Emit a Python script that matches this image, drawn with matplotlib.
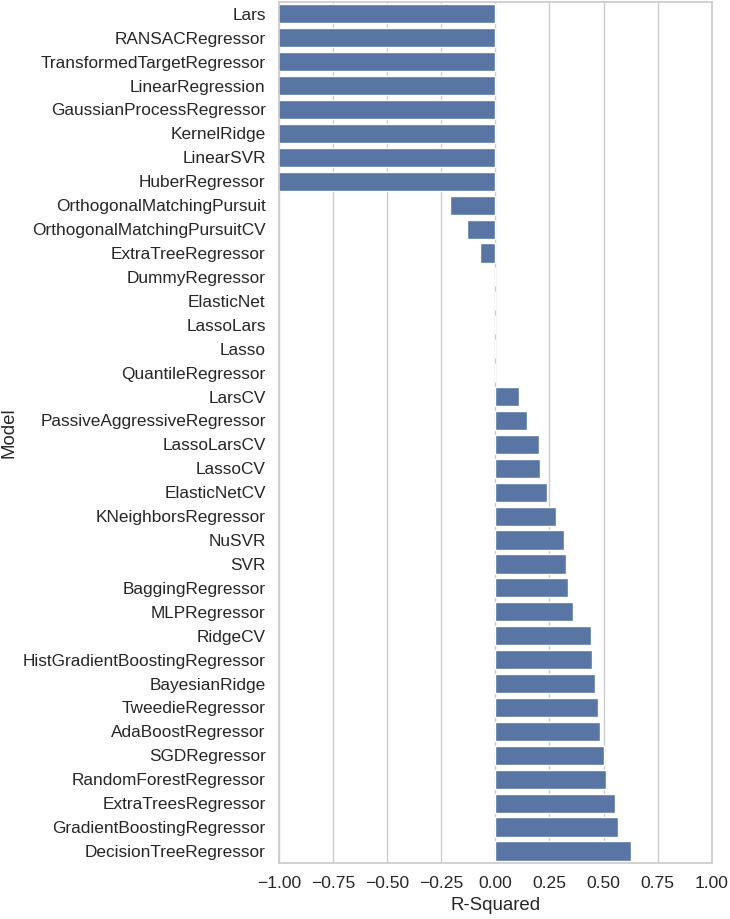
import matplotlib
matplotlib.use("Agg")
import matplotlib.pyplot as plt
import seaborn as sns
import pandas as pd

# ── Données (R² par modèle) ───────────────────────────────
modeles = [
    'Lars', 'RANSACRegressor', 'TransformedTargetRegressor', 'LinearRegression',
    'GaussianProcessRegressor', 'KernelRidge', 'LinearSVR', 'HuberRegressor',
    'OrthogonalMatchingPursuit', 'OrthogonalMatchingPursuitCV', 'ExtraTreeRegressor',
    'DummyRegressor', 'ElasticNet', 'LassoLars', 'Lasso', 'QuantileRegressor',
    'LarsCV', 'PassiveAggressiveRegressor', 'LassoLarsCV', 'LassoCV', 'ElasticNetCV',
    'KNeighborsRegressor', 'NuSVR', 'SVR', 'BaggingRegressor', 'MLPRegressor',
    'RidgeCV', 'HistGradientBoostingRegressor', 'BayesianRidge', 'TweedieRegressor',
    'AdaBoostRegressor', 'SGDRegressor', 'RandomForestRegressor',
    'ExtraTreesRegressor', 'GradientBoostingRegressor', 'DecisionTreeRegressor',
]
r2 = [
    -9.5, -6.2, -5.8, -5.8, -4.9, -3.7, -2.4, -1.6,
    -0.21, -0.13, -0.07,
    -0.002, -0.002, -0.002, -0.002, -0.002,
    0.111, 0.145, 0.202, 0.205, 0.239,
    0.279, 0.319, 0.326, 0.338, 0.360,
    0.443, 0.448, 0.460, 0.474,
    0.483, 0.500, 0.512,
    0.552, 0.566, 0.625,
]

df = pd.DataFrame({'Model': modeles, 'R-Squared': r2})

# ── Style ─────────────────────────────────────────────────
sns.set_theme(style="whitegrid")
plt.rcParams['font.family'] = ['Liberation Sans', 'DejaVu Sans']
plt.rcParams['xtick.labelsize'] = 12.6
plt.rcParams['ytick.labelsize'] = 12.4
plt.rcParams['axes.labelsize'] = 13.4

fig = plt.figure(figsize=(7.3, 9.19), dpi=100)
ax = fig.add_axes([0.382, 0.061, 0.593, 0.937])

sns.barplot(data=df, x='R-Squared', y='Model', color='#4c72b0', ax=ax)
ax.set_xlim(-1, 1)
ax.set_xticks([-1, -0.75, -0.5, -0.25, 0, 0.25, 0.5, 0.75, 1])
ax.set_xticklabels(['−1.00', '−0.75', '−0.50', '−0.25', '0.00',
                    '0.25', '0.50', '0.75', '1.00'])

fig.savefig("out.png", dpi=100)
